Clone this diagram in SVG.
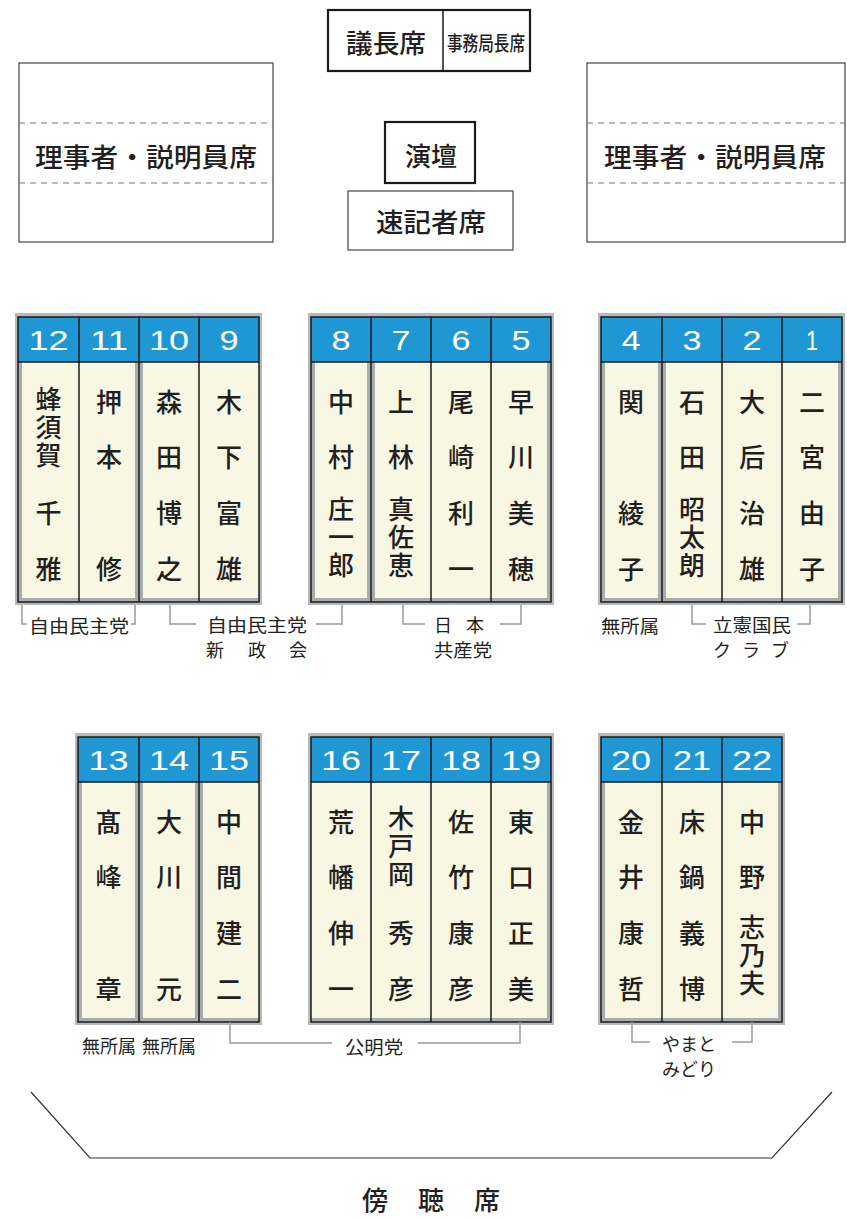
<svg xmlns="http://www.w3.org/2000/svg" width="847" height="1220" viewBox="0 0 847 1220">
<style>
.jp{font-family:"Noto Sans CJK JP","Noto Sans CJK SC",sans-serif;fill:#231f20}
.lbl{font-size:26px;font-weight:500;text-anchor:middle;dominant-baseline:central}
.nm{font-family:"Noto Sans CJK JP","Noto Sans CJK SC",sans-serif;fill:#231f20;font-size:26px;font-weight:500;text-anchor:middle;dominant-baseline:central}
.vt{font-family:"Noto Sans CJK JP","Noto Sans CJK SC",sans-serif;fill:#231f20;font-size:26px;font-weight:500;writing-mode:vertical-rl;letter-spacing:2px}
.num{font-family:"Liberation Sans",Arial,sans-serif;fill:#fff;font-size:28px;text-anchor:middle}
.pty{font-family:"Noto Sans CJK JP","Noto Sans CJK SC",sans-serif;fill:#231f20;font-size:18px;text-anchor:middle;dominant-baseline:central}
.frame{fill:#b7b9bb}
.body{fill:#a9abad}
.cream{fill:#f8f7e3}
.hdr{fill:#1f97d4}
.blk{fill:none;stroke:#1a1a1a;stroke-width:1.5}
.div{stroke:#1a1a1a;stroke-width:1.5}
.brk{fill:none;stroke:#9a9a9a;stroke-width:1.5}
.box{fill:#fff;stroke:#444;stroke-width:1.2}
.boxb{fill:#fff;stroke:#1a1a1a;stroke-width:2.2}
.dash{stroke:#777;stroke-width:1.2;stroke-dasharray:6 5}
</style>

<!-- Top area -->
<g id="chair">
<rect class="boxb" x="328" y="10" width="202" height="61"/>
<line class="div" x1="443" y1="10" x2="443" y2="71" stroke-width="2"/>
<text class="jp lbl" x="386" y="41" textLength="80" lengthAdjust="spacingAndGlyphs">議長席</text>
<text class="jp lbl" x="486" y="42" style="font-size:20px" textLength="78" lengthAdjust="spacingAndGlyphs">事務局長席</text>
</g>
<g id="left-staff">
<rect class="box" x="19" y="63" width="254" height="179"/>
<line class="dash" x1="19" y1="123" x2="273" y2="123"/>
<line class="dash" x1="19" y1="183" x2="273" y2="183"/>
<text class="jp lbl" x="146" y="155" textLength="222" lengthAdjust="spacingAndGlyphs">理事者・説明員席</text>
</g>
<g id="right-staff">
<rect class="box" x="587" y="63" width="258" height="179"/>
<line class="dash" x1="587" y1="123" x2="845" y2="123"/>
<line class="dash" x1="587" y1="183" x2="845" y2="183"/>
<text class="jp lbl" x="715" y="155" textLength="222" lengthAdjust="spacingAndGlyphs">理事者・説明員席</text>
</g>
<g id="podium">
<rect class="boxb" x="385" y="122" width="90" height="61"/>
<text class="jp lbl" x="431" y="154">演壇</text>
</g>
<g id="stenographer">
<rect class="box" x="348" y="191" width="165" height="59"/>
<text class="jp lbl" x="431" y="220" textLength="110" lengthAdjust="spacingAndGlyphs">速記者席</text>
</g>

<!-- Row 1, block 1: seats 12-9 -->
<g id="block-12-9">
<rect class="frame" x="15" y="313" width="247" height="292"/>
<rect class="body" x="18" y="317" width="241" height="285"/>
<rect class="cream" x="22" y="362" width="113" height="236"/>
<rect class="cream" x="143" y="362" width="116" height="236"/>
<rect class="hdr" x="18" y="317" width="241" height="45"/>
<line class="div" x1="18" y1="362" x2="259" y2="362"/>
<line class="div" x1="79" y1="317" x2="79" y2="602"/>
<line class="div" x1="139" y1="317" x2="139" y2="602"/>
<line class="div" x1="199" y1="317" x2="199" y2="602"/>
<rect class="blk" x="18" y="317" width="241" height="285"/>
<text class="num" x="48.5" y="350" textLength="40" lengthAdjust="spacingAndGlyphs">12</text>
<text class="num" x="109" y="350" textLength="38" lengthAdjust="spacingAndGlyphs">11</text>
<text class="num" x="169" y="350" textLength="40" lengthAdjust="spacingAndGlyphs">10</text>
<text class="num" x="229" y="350" textLength="19" lengthAdjust="spacingAndGlyphs">9</text>
<text class="vt" x="48.5" y="386">蜂須賀</text><text class="nm" x="48.5" y="511">千</text><text class="nm" x="48.5" y="567">雅</text>
<text class="nm" x="109" y="400">押</text><text class="nm" x="109" y="455">本</text><text class="nm" x="109" y="567">修</text>
<text class="nm" x="169" y="400">森</text><text class="nm" x="169" y="455">田</text><text class="nm" x="169" y="511">博</text><text class="nm" x="169" y="567">之</text>
<text class="nm" x="229" y="400">木</text><text class="nm" x="229" y="455">下</text><text class="nm" x="229" y="511">富</text><text class="nm" x="229" y="567">雄</text>
</g>

<!-- Row 1, block 2: seats 8-5 -->
<g id="block-8-5">
<rect class="frame" x="308" y="313" width="246" height="292"/>
<rect class="body" x="311" y="317" width="240" height="285"/>
<rect class="cream" x="315" y="362" width="52" height="236"/>
<rect class="cream" x="375" y="362" width="172" height="236"/>
<rect class="hdr" x="311" y="317" width="240" height="45"/>
<line class="div" x1="311" y1="362" x2="551" y2="362"/>
<line class="div" x1="371" y1="317" x2="371" y2="602"/>
<line class="div" x1="431" y1="317" x2="431" y2="602"/>
<line class="div" x1="491" y1="317" x2="491" y2="602"/>
<rect class="blk" x="311" y="317" width="240" height="285"/>
<text class="num" x="341" y="350" textLength="19" lengthAdjust="spacingAndGlyphs">8</text>
<text class="num" x="401" y="350" textLength="19" lengthAdjust="spacingAndGlyphs">7</text>
<text class="num" x="461" y="350" textLength="19" lengthAdjust="spacingAndGlyphs">6</text>
<text class="num" x="521" y="350" textLength="19" lengthAdjust="spacingAndGlyphs">5</text>
<text class="nm" x="341" y="400">中</text><text class="nm" x="341" y="455">村</text><text class="vt" x="341" y="496">庄一郎</text>
<text class="nm" x="401" y="400">上</text><text class="nm" x="401" y="455">林</text><text class="vt" x="401" y="496">真佐恵</text>
<text class="nm" x="461" y="400">尾</text><text class="nm" x="461" y="455">崎</text><text class="nm" x="461" y="511">利</text><text class="nm" x="461" y="567">一</text>
<text class="nm" x="521" y="400">早</text><text class="nm" x="521" y="455">川</text><text class="nm" x="521" y="511">美</text><text class="nm" x="521" y="567">穂</text>
</g>

<!-- Row 1, block 3: seats 4-1 -->
<g id="block-4-1">
<rect class="frame" x="598" y="313" width="247" height="292"/>
<rect class="body" x="601" y="317" width="241" height="285"/>
<rect class="cream" x="605" y="362" width="53" height="236"/>
<rect class="cream" x="666" y="362" width="172" height="236"/>
<rect class="hdr" x="601" y="317" width="241" height="45"/>
<line class="div" x1="601" y1="362" x2="842" y2="362"/>
<line class="div" x1="662" y1="317" x2="662" y2="602"/>
<line class="div" x1="722" y1="317" x2="722" y2="602"/>
<line class="div" x1="782" y1="317" x2="782" y2="602"/>
<rect class="blk" x="601" y="317" width="241" height="285"/>
<text class="num" x="631" y="350" textLength="19" lengthAdjust="spacingAndGlyphs">4</text>
<text class="num" x="692" y="350" textLength="19" lengthAdjust="spacingAndGlyphs">3</text>
<text class="num" x="752" y="350" textLength="19" lengthAdjust="spacingAndGlyphs">2</text>
<text class="num" x="812" y="350" textLength="12" lengthAdjust="spacingAndGlyphs">1</text>
<text class="nm" x="631" y="400">関</text><text class="nm" x="631" y="511">綾</text><text class="nm" x="631" y="567">子</text>
<text class="nm" x="692" y="400">石</text><text class="nm" x="692" y="455">田</text><text class="vt" x="692" y="496">昭太朗</text>
<text class="nm" x="752" y="400">大</text><text class="nm" x="752" y="455">后</text><text class="nm" x="752" y="511">治</text><text class="nm" x="752" y="567">雄</text>
<text class="nm" x="812" y="400">二</text><text class="nm" x="812" y="455">宮</text><text class="nm" x="812" y="511">由</text><text class="nm" x="812" y="567">子</text>
</g>

<!-- Row 2, block 1: seats 13-15 -->
<g id="block-13-15">
<rect class="frame" x="75" y="733" width="187" height="292"/>
<rect class="body" x="78" y="737" width="181" height="285"/>
<rect class="cream" x="82" y="782" width="53" height="236"/>
<rect class="cream" x="143" y="782" width="52" height="236"/>
<rect class="cream" x="203" y="782" width="56" height="236"/>
<rect class="hdr" x="78" y="737" width="181" height="45"/>
<line class="div" x1="78" y1="782" x2="259" y2="782"/>
<line class="div" x1="139" y1="737" x2="139" y2="1022"/>
<line class="div" x1="199" y1="737" x2="199" y2="1022"/>
<rect class="blk" x="78" y="737" width="181" height="285"/>
<text class="num" x="108.5" y="770" textLength="40" lengthAdjust="spacingAndGlyphs">13</text>
<text class="num" x="169" y="770" textLength="40" lengthAdjust="spacingAndGlyphs">14</text>
<text class="num" x="229" y="770" textLength="40" lengthAdjust="spacingAndGlyphs">15</text>
<text class="nm" x="108.5" y="820">髙</text><text class="nm" x="108.5" y="875">峰</text><text class="nm" x="108.5" y="987">章</text>
<text class="nm" x="169" y="820">大</text><text class="nm" x="169" y="875">川</text><text class="nm" x="169" y="987">元</text>
<text class="nm" x="229" y="820">中</text><text class="nm" x="229" y="875">間</text><text class="nm" x="229" y="931">建</text><text class="nm" x="229" y="987">二</text>
</g>

<!-- Row 2, block 2: seats 16-19 -->
<g id="block-16-19">
<rect class="frame" x="308" y="733" width="246" height="292"/>
<rect class="body" x="311" y="737" width="240" height="285"/>
<rect class="cream" x="311" y="782" width="236" height="236"/>
<rect class="hdr" x="311" y="737" width="240" height="45"/>
<line class="div" x1="311" y1="782" x2="551" y2="782"/>
<line class="div" x1="371" y1="737" x2="371" y2="1022"/>
<line class="div" x1="431" y1="737" x2="431" y2="1022"/>
<line class="div" x1="491" y1="737" x2="491" y2="1022"/>
<rect class="blk" x="311" y="737" width="240" height="285"/>
<text class="num" x="341" y="770" textLength="40" lengthAdjust="spacingAndGlyphs">16</text>
<text class="num" x="401" y="770" textLength="40" lengthAdjust="spacingAndGlyphs">17</text>
<text class="num" x="461" y="770" textLength="40" lengthAdjust="spacingAndGlyphs">18</text>
<text class="num" x="521" y="770" textLength="40" lengthAdjust="spacingAndGlyphs">19</text>
<text class="nm" x="341" y="820">荒</text><text class="nm" x="341" y="875">幡</text><text class="nm" x="341" y="931">伸</text><text class="nm" x="341" y="987">一</text>
<text class="vt" x="401" y="805">木戸岡</text><text class="nm" x="401" y="931">秀</text><text class="nm" x="401" y="987">彦</text>
<text class="nm" x="461" y="820">佐</text><text class="nm" x="461" y="875">竹</text><text class="nm" x="461" y="931">康</text><text class="nm" x="461" y="987">彦</text>
<text class="nm" x="521" y="820">東</text><text class="nm" x="521" y="875">口</text><text class="nm" x="521" y="931">正</text><text class="nm" x="521" y="987">美</text>
</g>

<!-- Row 2, block 3: seats 20-22 -->
<g id="block-20-22">
<rect class="frame" x="598" y="733" width="187" height="292"/>
<rect class="body" x="601" y="737" width="181" height="285"/>
<rect class="cream" x="605" y="782" width="173" height="236"/>
<rect class="hdr" x="601" y="737" width="181" height="45"/>
<line class="div" x1="601" y1="782" x2="782" y2="782"/>
<line class="div" x1="662" y1="737" x2="662" y2="1022"/>
<line class="div" x1="722" y1="737" x2="722" y2="1022"/>
<rect class="blk" x="601" y="737" width="181" height="285"/>
<text class="num" x="631" y="770" textLength="40" lengthAdjust="spacingAndGlyphs">20</text>
<text class="num" x="692" y="770" textLength="38" lengthAdjust="spacingAndGlyphs">21</text>
<text class="num" x="752" y="770" textLength="40" lengthAdjust="spacingAndGlyphs">22</text>
<text class="nm" x="631" y="820">金</text><text class="nm" x="631" y="875">井</text><text class="nm" x="631" y="931">康</text><text class="nm" x="631" y="987">哲</text>
<text class="nm" x="692" y="820">床</text><text class="nm" x="692" y="875">鍋</text><text class="nm" x="692" y="931">義</text><text class="nm" x="692" y="987">博</text>
<text class="nm" x="752" y="820">中</text><text class="nm" x="752" y="875">野</text><text class="vt" x="752" y="914">志乃夫</text>
</g>

<!-- Party brackets -->
<g id="connectors">
<path class="brk" d="M22,605 V624 H27 M131,624 H135 V605"/>
<path class="brk" d="M170,605 V624 H196 M316,624 H342 V605"/>
<path class="brk" d="M403,605 V624 H425 M500,624 H521 V605"/>
<path class="brk" d="M692,605 V624 H706 M797,624 H810 V605"/>
<path class="brk" d="M230,1022 V1043 H332 M418,1043 H520 V1022"/>
<path class="brk" d="M632,1022 V1042 H650 M732,1042 H752 V1022"/>
</g>

<g id="party-labels">
<text class="pty" x="79" y="625" textLength="100" lengthAdjust="spacingAndGlyphs">自由民主党</text>
<text class="pty" x="257" y="624" textLength="100" lengthAdjust="spacingAndGlyphs">自由民主党</text>
<text class="pty" x="215 257 298" y="649">新政会</text>
<text class="pty" x="443 475" y="624">日本</text>
<text class="pty" x="463" y="649" textLength="58" lengthAdjust="spacingAndGlyphs">共産党</text>
<text class="pty" x="630" y="625" textLength="58" lengthAdjust="spacingAndGlyphs">無所属</text>
<text class="pty" x="752" y="624" textLength="78" lengthAdjust="spacingAndGlyphs">立憲国民</text>
<text class="pty" x="722 751 780" y="649">クラブ</text>
<text class="pty" x="109" y="1045" textLength="54" lengthAdjust="spacingAndGlyphs">無所属</text>
<text class="pty" x="169" y="1045" textLength="54" lengthAdjust="spacingAndGlyphs">無所属</text>
<text class="pty" x="374" y="1046" textLength="58" lengthAdjust="spacingAndGlyphs">公明党</text>
<text class="pty" x="689" y="1043">やまと</text>
<text class="pty" x="689" y="1068">みどり</text>
</g>

<!-- Gallery -->
<g id="gallery">
<polyline points="31,1092 90,1158 772,1158 832,1092" fill="none" stroke="#333" stroke-width="1.2"/>
<text class="jp lbl" x="375 431 487" y="1198">傍聴席</text>
</g>
</svg>
